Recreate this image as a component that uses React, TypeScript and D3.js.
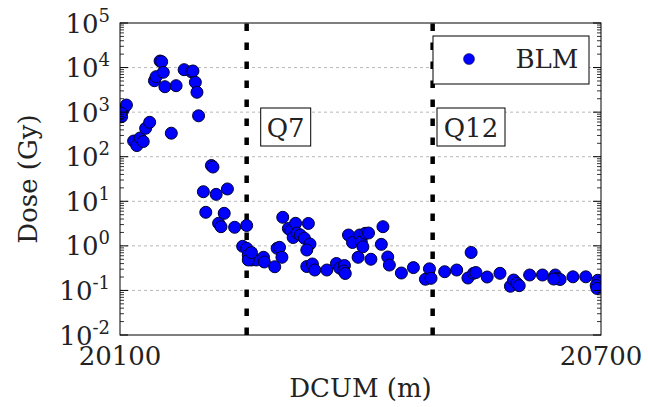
import React from "react";
import * as d3 from "d3";

const dcum = [
  20102, 20104, 20108, 20101, 20117, 20121, 20125, 20129, 20132, 20137,
  20143, 20145, 20150, 20152, 20154, 20156, 20164, 20170, 20180, 20189,
  20191, 20194, 20196, 20198, 20204, 20207, 20214, 20216, 20220, 20223,
  20226, 20230, 20234, 20243, 20258, 20253, 20258, 20260, 20264, 20270,
  20279, 20280, 20293, 20296, 20299, 20302, 20303, 20310, 20313, 20316,
  20319, 20321, 20325, 20330, 20335, 20337, 20333, 20333, 20340, 20343,
  20358, 20370, 20374, 20380, 20379, 20381, 20385, 20390, 20397, 20399,
  20401, 20403, 20406, 20410, 20413, 20428, 20426, 20434, 20436, 20451,
  20466, 20486, 20481, 20488, 20505, 20520, 20538, 20534, 20541, 20544,
  20558, 20574, 20587, 20591, 20595, 20598, 20611, 20627, 20643, 20645,
  20649, 20641, 20665, 20681, 20696, 20694, 20695, 20260, 20264,
];

const dose = [
  791, 1117, 1445, 957, 225, 178, 263, 219, 434, 592,
  5070, 6240, 14030, 13550, 7830, 3720, 337, 3920, 8960, 8070,
  8380, 4680, 2790, 828, 16.4, 5.66, 63.5, 58.7, 14.3, 3.21,
  2.69, 5.37, 18.9, 2.61, 2.86, 0.977, 0.881, 0.624, 0.482, 0.482,
  0.554, 0.435, 0.34, 0.881, 0.927, 0.554, 4.37, 2.45, 2.21, 1.54,
  3.21, 1.94, 1.75, 1.48, 3.18, 1.1, 0.807, 0.344, 0.392, 0.287,
  0.287, 0.402, 0.318, 0.362, 0.273, 0.24, 1.75, 1.19, 0.554, 1.75,
  1.24, 0.953, 1.91, 1.94, 0.501, 2.69, 1.08, 0.563, 0.371, 0.246,
  0.325, 0.305, 0.178, 0.187, 0.263, 0.287, 0.71, 0.19, 0.242, 0.252,
  0.2, 0.242, 0.124, 0.171, 0.145, 0.128, 0.222, 0.222, 0.222, 0.187,
  0.176, 0.18, 0.202, 0.202, 0.169, 0.129, 0.111, 0.482, 0.706,
];

const markerLines = [
  { label: "Q7", x: 20258 },
  { label: "Q12", x: 20490 },
];

const xTicks = [20100, 20700];
const yExponents = [-2, -1, 0, 1, 2, 3, 4, 5];
const seriesName = "BLM";
const xTitle = "DCUM (m)";
const yTitle = "Dose (Gy)";

const W = 648;
const H = 407;
const L = 120, R = 601, T = 23, B = 335;
const FONT = "'DejaVu Serif', serif";

export default function App() {
  const x = d3.scaleLinear().domain([20100, 20700]).range([L, R]);
  const y = d3.scaleLog().domain([1e-2, 1e5]).range([B, T]);

  const minor: number[] = [];
  for (let k = -2; k < 5; k++) for (let m = 2; m <= 9; m++) minor.push(m * Math.pow(10, k));

  const pts = dcum.map((d, i) => ({ x: d, y: dose[i] }));

  return (
    <svg width={W} height={H} style={{ position: "absolute", left: 0, top: 0 }} fontFamily={FONT}>
      <defs>
        <clipPath id="plotclip">
          <rect x={L} y={T} width={R - L} height={B - T} />
        </clipPath>
      </defs>
      <rect x={0} y={0} width={W} height={H} fill="#fff" />
      {yExponents.slice(1, -1).map((e) => (
        <line key={e} x1={L} x2={R} y1={y(Math.pow(10, e))} y2={y(Math.pow(10, e))}
          stroke="#b8b8b8" strokeWidth={1} strokeDasharray="3,3" />
      ))}
      {markerLines.map((m) => (
        <line key={m.label} x1={x(m.x)} x2={x(m.x)} y1={B} y2={T}
          stroke="#000" strokeWidth={4.5} strokeDasharray="7.5,11.5" />
      ))}
      <g clipPath="url(#plotclip)">
        {pts.map((p, i) => (
          <circle key={i} cx={x(p.x)} cy={y(p.y)} r={6} fill="#0000ff" stroke="#000033" strokeWidth={1} />
        ))}
      </g>
      {yExponents.map((e) => {
        const yy = y(Math.pow(10, e));
        return (
          <g key={"t" + e}>
            <line x1={L} x2={L + 8} y1={yy} y2={yy} stroke="#000" strokeWidth={1} />
            <line x1={R} x2={R - 8} y1={yy} y2={yy} stroke="#000" strokeWidth={1} />
          </g>
        );
      })}
      {minor.map((v, i) => (
        <g key={"m" + i}>
          <line x1={L} x2={L + 4} y1={y(v)} y2={y(v)} stroke="#000" strokeWidth={0.8} />
          <line x1={R} x2={R - 4} y1={y(v)} y2={y(v)} stroke="#000" strokeWidth={0.8} />
        </g>
      ))}
      <rect x={L} y={T} width={R - L} height={B - T} fill="none" stroke="#000" strokeWidth={1} />
      {yExponents.map((e) => {
        const yy = y(Math.pow(10, e));
        return (
          <text key={"yl" + e} x={110} y={yy + 9.5} textAnchor="end" fontSize={26} fill="#222">
            10<tspan fontSize={18} dy={-11}>{String(e)}</tspan>
          </text>
        );
      })}
      {xTicks.map((t) => (
        <text key={"xl" + t} x={x(t)} y={365} textAnchor="middle" fontSize={26} fill="#222">{t}</text>
      ))}
      <text x={(L + R) / 2} y={397} textAnchor="middle" fontSize={26} fill="#222">{xTitle}</text>
      <text transform={`translate(37,${(T + B) / 2}) rotate(-90)`} textAnchor="middle" fontSize={26} fill="#222">{yTitle}</text>
      {markerLines.map((m, i) => {
        const cx = i === 0 ? 285.7 : 471;
        const w = i === 0 ? 50 : 68;
        return (
          <g key={"q" + m.label}>
            <rect x={cx - w / 2} y={108} width={w} height={38} fill="#fff" stroke="#000" strokeWidth={1} />
            <text x={cx} y={136.5} textAnchor="middle" fontSize={26} fill="#222">{m.label}</text>
          </g>
        );
      })}
      <rect x={433} y={36} width={156} height={48} fill="#fff" stroke="#000" strokeWidth={1} />
      <circle cx={469} cy={59} r={5.5} fill="#0000ff" stroke="#000033" strokeWidth={0.5} />
      <text x={547} y={68} textAnchor="middle" fontSize={26} fill="#222">{seriesName}</text>
    </svg>
  );
}
